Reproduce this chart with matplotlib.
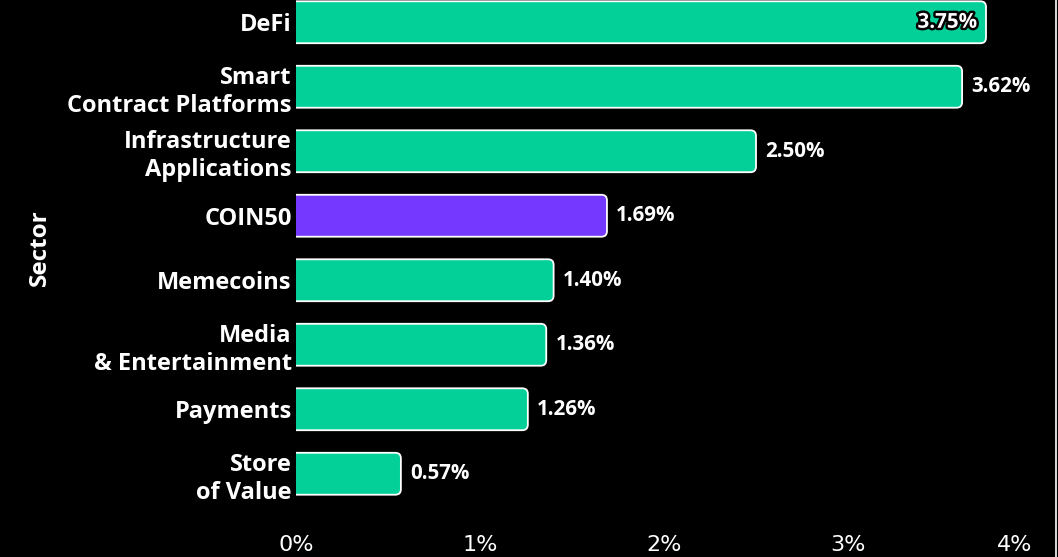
import matplotlib.pyplot as plt
import matplotlib.patheffects as pe
from matplotlib.patches import FancyBboxPatch
from matplotlib.lines import Line2D

sectors = ['DeFi', 'Smart\nContract Platforms', 'Infrastructure\nApplications', 'COIN50',
           'Memecoins', 'Media\n& Entertainment', 'Payments', 'Store\nof Value']
returns = [3.75, 3.62, 2.50, 1.69, 1.40, 1.36, 1.26, 0.57]
highlight = 'COIN50'
xticks = [0, 1, 2, 3, 4]
xtick_labels = ['0%', '1%', '2%', '3%', '4%']

green = '#03CF98'
purple = '#7438FF'

plt.rcParams['font.family'] = ['Open Sans', 'DejaVu Sans']

fig = plt.figure(figsize=(10.58, 5.57), dpi=100, facecolor='black')
ax = fig.add_axes([296 / 1058, 1 - 506 / 557, (1032 - 296) / 1058, 516 / 557])
ax.set_facecolor('black')

ys = list(range(len(sectors)))
h = 0.65
for y, name, v in zip(ys, sectors, returns):
    col = purple if name == highlight else green
    bar = FancyBboxPatch((-0.1, y - h / 2), v + 0.1, h,
                         boxstyle='round,pad=0,rounding_size=0.03',
                         mutation_aspect=2.85,
                         facecolor=col, edgecolor='white', linewidth=1.3)
    ax.add_patch(bar)
    lbl = f'{v:.2f}%'
    if v > 3.7:
        ax.text(v - 0.05, y, lbl, ha='right', va='center', color='white',
                fontsize=14.8, fontweight='bold',
                path_effects=[pe.withStroke(linewidth=3.5, foreground='black')])
    else:
        ax.text(v + 0.05, y, lbl, ha='left', va='center', color='white',
                fontsize=14.8, fontweight='bold')

ax.set_xlim(0, 4)
ax.set_ylim(len(sectors) - 0.5, -0.5)
ax.set_yticks(ys)
ax.set_yticklabels(sectors, fontsize=17, fontweight='bold', color='white',
                   linespacing=1.22)
ax.set_xticks(xticks)
ax.set_xticklabels(xtick_labels, fontsize=16, color='white',
                   family=['Liberation Sans Narrow', 'DejaVu Sans'])
ax.get_xticklabels()[-1].set_horizontalalignment('right')
ax.tick_params(axis='both', length=0)
ax.tick_params(axis='x', pad=21)
ax.tick_params(axis='y', pad=3)
for s in ax.spines.values():
    s.set_visible(False)

ax.set_ylabel('Sector', fontsize=17.5, fontweight='bold', color='white', labelpad=0)
ax.yaxis.set_label_coords(-244 / 736, 0.5)

fig.add_artist(Line2D([1055.5 / 1058, 1055.5 / 1058], [0, 1], color='white',
                      linewidth=1.2, transform=fig.transFigure))

fig.savefig('out.png', dpi=100, facecolor='black')
